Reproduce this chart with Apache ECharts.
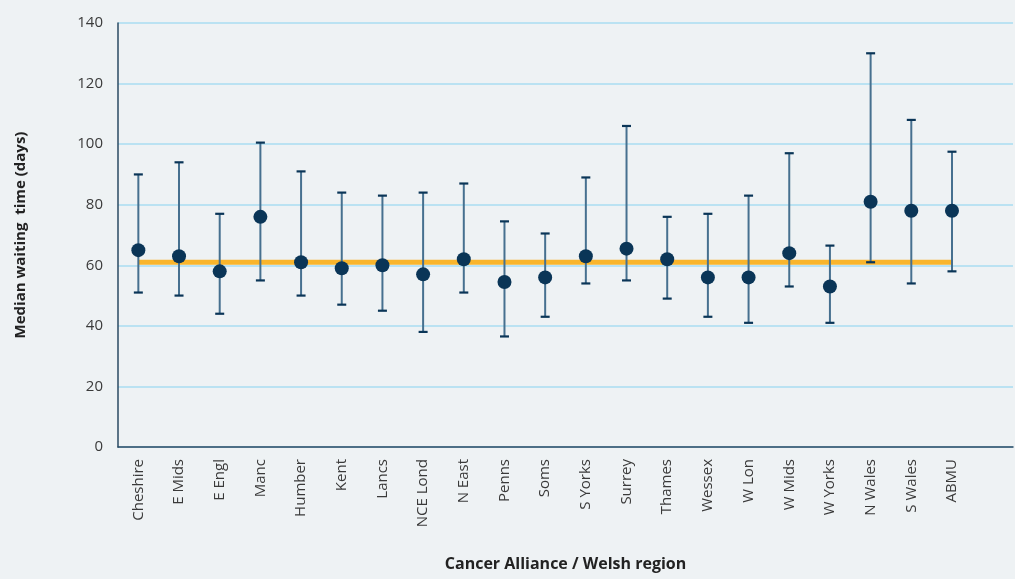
<!DOCTYPE html>
<html>
<head>
<meta charset="utf-8">
<script src="https://cdn.jsdelivr.net/npm/echarts@6/dist/echarts.min.js"></script>
<style>
  html, body { margin: 0; padding: 0; background: #eef2f4; }
  #chart { width: 1015px; height: 579px; }
</style>
</head>
<body>
<div id="chart"></div>
<script>
// Cancer alliances / Welsh regions
const categories = ['Cheshire', 'E Mids', 'E Engl', 'Manc', 'Humber', 'Kent', 'Lancs', 'NCE Lond',
  'N East', 'Penns', 'Soms', 'S Yorks', 'Surrey', 'Thames', 'Wessex', 'W Lon', 'W Mids',
  'W Yorks', 'N Wales', 'S Wales', 'ABMU'];
// Median waiting time (days) with lower / upper interval bounds
const medians = [65, 63, 58, 76, 61, 59, 60, 57, 62, 54.5, 56, 63, 65.5, 62, 56, 56, 64, 53, 81, 78, 78];
const lower   = [51, 50, 44, 55, 50, 47, 45, 38, 51, 36.5, 43, 54, 55, 49, 43, 41, 53, 41, 61, 54, 58];
const upper   = [90, 94, 77, 100.5, 91, 84, 83, 84, 87, 74.5, 70.5, 89, 106, 76, 77, 83, 97, 66.5, 130, 108, 97.5];
// Overall median across all regions
const overallMedian = 61;
const yTicks = [0, 20, 40, 60, 80, 100, 120, 140];

const FONT = '"Open Sans", "Noto Sans", sans-serif';
const NAVY = '#0a3557';

// one spare slot on the right of the category axis
const axisCats = categories.concat(['']);

const chart = echarts.init(document.getElementById('chart'), null, { renderer: 'canvas' });

chart.setOption({
  backgroundColor: '#eef2f4',
  animation: false,
  grid: { left: 118, right: 2, top: 23, bottom: 132, containLabel: false, outerBoundsMode: 'none' },
  xAxis: {
    type: 'category',
    data: axisCats,
    boundaryGap: true,
    name: 'Cancer Alliance / Welsh region',
    nameLocation: 'middle',
    nameGap: 109,
    nameTextStyle: { fontFamily: FONT, fontWeight: 'bold', fontSize: 16, color: '#222' },
    axisLine: { lineStyle: { color: '#2a4a63', width: 1.5 } },
    axisTick: { show: false },
    axisLabel: {
      rotate: 90, interval: 0, margin: 12,
      fontFamily: FONT, fontSize: 15, color: '#3a3a3a'
    },
    splitLine: { show: false }
  },
  yAxis: {
    type: 'value',
    min: yTicks[0],
    max: yTicks[yTicks.length - 1],
    interval: yTicks[1] - yTicks[0],
    name: 'Median waiting  time (days)',
    nameLocation: 'middle',
    nameGap: 90,
    nameRotate: 90,
    nameTextStyle: { fontFamily: FONT, fontWeight: 'bold', fontSize: 15, color: '#222' },
    axisLine: { show: true, lineStyle: { color: '#2a4a63', width: 1.5 } },
    axisTick: { show: false },
    axisLabel: {
      margin: 15, fontFamily: FONT, fontSize: 15, color: '#3a3a3a',
      padding: [0, 0, 10, 0]
    },
    splitLine: { lineStyle: { color: '#a8dcf2', width: 1.5 } }
  },
  series: [
    {
      // overall median reference line, spanning the first to the last region
      type: 'line',
      data: categories.map(() => overallMedian),
      symbol: 'none',
      lineStyle: { color: '#f9b52c', width: 5 },
      z: 2,
      silent: true
    },
    {
      // interval bars
      type: 'custom',
      data: categories.map((c, i) => [i, lower[i], upper[i]]),
      z: 3,
      renderItem: function (params, api) {
        const lo = api.coord([api.value(0), api.value(1)]);
        const hi = api.coord([api.value(0), api.value(2)]);
        const capHalf = 4.5;
        return {
          type: 'group',
          children: [
            {
              type: 'line',
              shape: { x1: lo[0], y1: lo[1], x2: hi[0], y2: hi[1] },
              style: { stroke: '#46708f', lineWidth: 2 }
            },
            {
              type: 'line',
              shape: { x1: hi[0] - capHalf, y1: hi[1], x2: hi[0] + capHalf, y2: hi[1] },
              style: { stroke: NAVY, lineWidth: 2.2 }
            },
            {
              type: 'line',
              shape: { x1: lo[0] - capHalf, y1: lo[1], x2: lo[0] + capHalf, y2: lo[1] },
              style: { stroke: NAVY, lineWidth: 2.2 }
            }
          ]
        };
      }
    },
    {
      // medians
      type: 'scatter',
      data: medians,
      symbol: 'circle',
      symbolSize: 14,
      itemStyle: { color: NAVY, opacity: 1 },
      z: 4
    }
  ]
});
</script>
</body>
</html>
